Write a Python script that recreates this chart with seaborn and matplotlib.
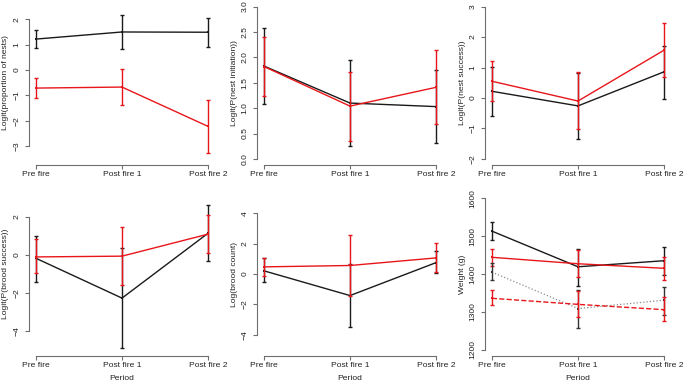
import numpy as np
import matplotlib
matplotlib.use("Agg")
import matplotlib.pyplot as plt
import seaborn as sns

# --- data (estimates with lower / upper CI) ---
periods = ["Pre fire", "Post fire 1", "Post fire 2"]

nests_black = [1.22, 1.50, 1.49]
nests_black_lo = [0.87, 0.84, 0.91]
nests_black_hi = [1.59, 2.16, 2.07]
nests_red = [-0.71, -0.67, -2.22]
nests_red_lo = [-1.11, -1.36, -3.28]
nests_red_hi = [-0.32, 0.04, -1.17]

init_black = [1.83, 1.10, 1.03]
init_black_lo = [1.08, 0.25, 0.31]
init_black_hi = [2.58, 1.95, 1.75]
init_red = [1.82, 1.04, 1.41]
init_red_lo = [1.23, 0.35, 0.69]
init_red_hi = [2.41, 1.72, 2.14]

success_black = [0.22, -0.26, 0.86]
success_black_lo = [-0.59, -1.34, -0.02]
success_black_hi = [1.02, 0.82, 1.71]
success_red = [0.55, -0.10, 1.57]
success_red_lo = [-0.11, -1.03, 0.69]
success_red_hi = [1.22, 0.84, 2.45]

brood_black = [-0.17, -2.27, 1.15]
brood_black_lo = [-1.40, -4.90, -0.33]
brood_black_hi = [1.01, 0.38, 2.65]
brood_red = [-0.10, -0.06, 1.10]
brood_red_lo = [-0.96, -1.56, 0.11]
brood_red_hi = [0.82, 1.45, 2.12]

count_black = [0.21, -1.42, 0.75]
count_black_lo = [-0.54, -3.50, 0.05]
count_black_hi = [1.04, 0.64, 1.52]
count_red = [0.47, 0.56, 1.06]
count_red_lo = [-0.14, -1.46, 0.10]
count_red_hi = [1.04, 2.60, 2.05]

weight_black = [1513, 1419, 1435]
weight_black_lo = [1489, 1369, 1397]
weight_black_hi = [1536, 1467, 1472]
weight_red = [1444, 1427, 1415]
weight_red_lo = [1421, 1393, 1384]
weight_red_hi = [1466, 1464, 1446]
weight_black2 = [1405, 1309, 1331]
weight_black2_lo = [1384, 1259, 1291]
weight_black2_hi = [1430, 1359, 1366]
weight_red2 = [1336, 1320, 1306]
weight_red2_lo = [1318, 1286, 1275]
weight_red2_hi = [1357, 1354, 1339]

sns.set_style("white")
plt.rcParams["font.family"] = ["Liberation Sans", "DejaVu Sans"]

BLACK = "#1a1a1a"
RED = "#e8161b"
AXCOL = "#6e6e6e"
FS = 6.1

fig = plt.figure(figsize=(6.85, 3.84), dpi=100)
W, H = 685, 384


def make_ax(left, top, bottom):
    return fig.add_axes([left / W, 1 - bottom / H, 186 / W, (bottom - top) / H])


def series(ax, vals, lo, hi, color, ls="-", lw=1.0, line_color=None):
    x = np.arange(1, 4)
    vals = np.array(vals, dtype=float)
    err = [vals - np.array(lo), np.array(hi) - vals]
    ax.errorbar(x, vals, yerr=err, fmt="none", ecolor=color, elinewidth=1.0,
                capsize=1.6, capthick=1.0)
    sns.lineplot(x=x, y=vals, color=line_color or color, linestyle=ls, linewidth=lw,
                 ax=ax)
    ax.plot(x, vals, linestyle="none", marker="s", markersize=2.0,
            markeredgewidth=0, color=color)


def style(ax, yticks, ylabel, ylim, ticklabels=None, xlabel=None):
    ax.set_xlim(0.92, 3.08)
    ax.set_ylim(*ylim)
    ax.set_xticks([1, 2, 3])
    ax.set_xticklabels(periods)
    ax.set_yticks(yticks)
    if ticklabels is not None:
        ax.set_yticklabels(ticklabels)
    for s in ["top", "right"]:
        ax.spines[s].set_visible(False)
    for s in ["left", "bottom"]:
        ax.spines[s].set_color(AXCOL)
        ax.spines[s].set_linewidth(0.8)
    ax.spines["left"].set_bounds(yticks[0], yticks[-1])
    ax.spines["bottom"].set_bounds(1, 3)
    ax.tick_params(axis="both", bottom=True, left=True, length=3, width=0.8,
                   color=AXCOL, labelsize=FS, labelcolor="#222222", direction="out")
    ax.tick_params(axis="x", pad=1.5)
    ax.tick_params(axis="y", pad=3.0)
    for lab in ax.get_yticklabels():
        lab.set_rotation(90)
        lab.set_va("center")
    ax.set_ylabel(ylabel, fontsize=FS, color="#222222", labelpad=3)
    ax.set_xlabel(xlabel if xlabel else "", fontsize=FS, color="#222222", labelpad=4)
    ax.grid(False)


# top row
ax1 = make_ax(29, 0.5, 165)
series(ax1, nests_black, nests_black_lo, nests_black_hi, BLACK)
series(ax1, nests_red, nests_red_lo, nests_red_hi, RED)
style(ax1, [-3, -2, -1, 0, 1, 2], "Logit(proportion of nests)", (-3.74, 2.74))

ax2 = make_ax(257, 0.5, 165)
series(ax2, init_black, init_black_lo, init_black_hi, BLACK)
series(ax2, init_red, init_red_lo, init_red_hi, RED)
style(ax2, [0, 0.5, 1, 1.5, 2, 2.5, 3], "Logit(P(nest initiation))", (-0.12, 3.12),
      ["0.0", "0.5", "1.0", "1.5", "2.0", "2.5", "3.0"])

ax3 = make_ax(485, 0.5, 165)
series(ax3, success_black, success_black_lo, success_black_hi, BLACK)
series(ax3, success_red, success_red_lo, success_red_hi, RED)
style(ax3, [-2, -1, 0, 1, 2, 3], "Logit(P(nest success))", (-2.2, 3.2))

# bottom row
ax4 = make_ax(29, 192, 356)
series(ax4, brood_black, brood_black_lo, brood_black_hi, BLACK)
series(ax4, brood_red, brood_red_lo, brood_red_hi, RED)
style(ax4, [-4, -2, 0, 2], "Logit(P(brood success))", (-5.32, 3.32), xlabel="Period")

ax5 = make_ax(257, 192, 356)
series(ax5, count_black, count_black_lo, count_black_hi, BLACK)
series(ax5, count_red, count_red_lo, count_red_hi, RED)
style(ax5, [-4, -2, 0, 2, 4], "Log(brood count)", (-5.4, 5.4), xlabel="Period")

ax6 = make_ax(485, 192, 356)
series(ax6, weight_black, weight_black_lo, weight_black_hi, BLACK)
series(ax6, weight_red, weight_red_lo, weight_red_hi, RED)
series(ax6, weight_black2, weight_black2_lo, weight_black2_hi, "#333333", ls=":",
       lw=0.9, line_color="#8a8a8a")
series(ax6, weight_red2, weight_red2_lo, weight_red2_hi, RED, ls="--")
style(ax6, [1200, 1300, 1400, 1500, 1600], "Weight (g)", (1184, 1616), xlabel="Period")

fig.savefig("out.png", dpi=100)
